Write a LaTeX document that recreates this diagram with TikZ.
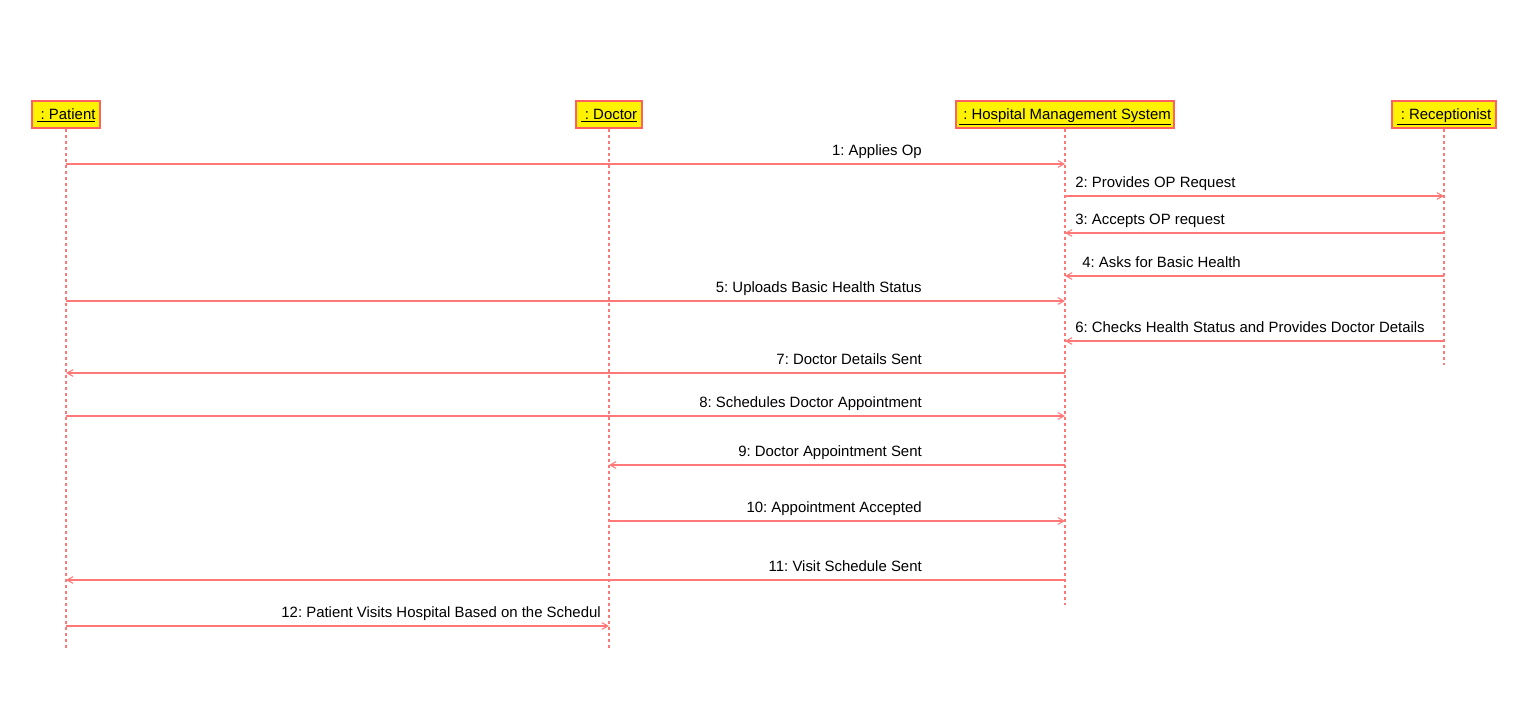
\documentclass[tikz,border=0pt]{standalone}
\usepackage{fontspec}
\setmainfont{Liberation Sans}
\usetikzlibrary{arrows.meta}
\definecolor{boxred}{RGB}{255,96,96}
\definecolor{linered}{RGB}{255,120,120}
\frenchspacing

\begin{document}
\begin{tikzpicture}
	[x=0.75pt, y=-0.75pt, font=\fontsize{11.2}{13}\selectfont,
	 obj/.style = {draw=boxred, fill=yellow, line width=1pt, minimum height=20.25pt, inner sep=0pt,
	               text height=7.8pt, text depth=1pt},
	 life/.style = {draw=linered, line width=1pt, dash pattern=on 2.5pt off 2pt},
	 msg/.style = {draw=linered, line width=1pt, -{Straight Barb[length=4.5pt, width=5pt, line width=0.8pt]}},
	 lbl/.style = {inner sep=0pt}]
	\useasboundingbox (0,0) rectangle (1513,717);
	% objects
	\node[obj, minimum width=51pt] (patient) at (66,114.5) {\underline{\ : Patient}};
	\node[obj, minimum width=49.5pt] (doctor) at (609,114.5) {\underline{\ : Doctor}};
	\node[obj, minimum width=163.5pt] (hms) at (1065,114.5) {\underline{\ : Hospital Management System}};
	\node[obj, minimum width=78pt] (recep) at (1444,114.5) {\underline{\ : Receptionist}};
	% lifelines
	\coordinate (patient end) at (66,650);
	\coordinate (doctor end) at (609,650);
	\coordinate (hms end) at (1065,605);
	\coordinate (recep end) at (1444,365);
	\foreach \obj in {patient, doctor, hms, recep}
		\draw[life] (\obj.south) -- (\obj\space end);
	% messages
	\foreach \y/\from/\to/\lx/\anc/\txt in {
		164/patient/hms/922/east/{1: Applies Op},
		196/hms/recep/1075/west/{2: Provides OP Request},
		233/recep/hms/1075/west/{3: Accepts OP request},
		276/recep/hms/1082/west/{4: Asks for Basic Health},
		301/patient/hms/922/east/{5: Uploads Basic Health Status},
		341/recep/hms/1075/west/{6: Checks Health Status and Provides Doctor Details},
		373/hms/patient/922/east/{7: Doctor Details Sent},
		416/patient/hms/922/east/{8: Schedules Doctor Appointment},
		465/hms/doctor/922/east/{9: Doctor Appointment Sent},
		521/doctor/hms/922/east/{10: Appointment Accepted},
		580/hms/patient/922/east/{11: Visit Schedule Sent},
		626/patient/doctor/601/east/{12: Patient Visits Hospital Based on the Schedul}}
	{
		\draw[msg] (\from |- 0,\y) -- (\to |- 0,\y);
		\node[lbl, anchor=base \anc] at (\lx,\y-9) {\txt};
	}
\end{tikzpicture}
\end{document}
